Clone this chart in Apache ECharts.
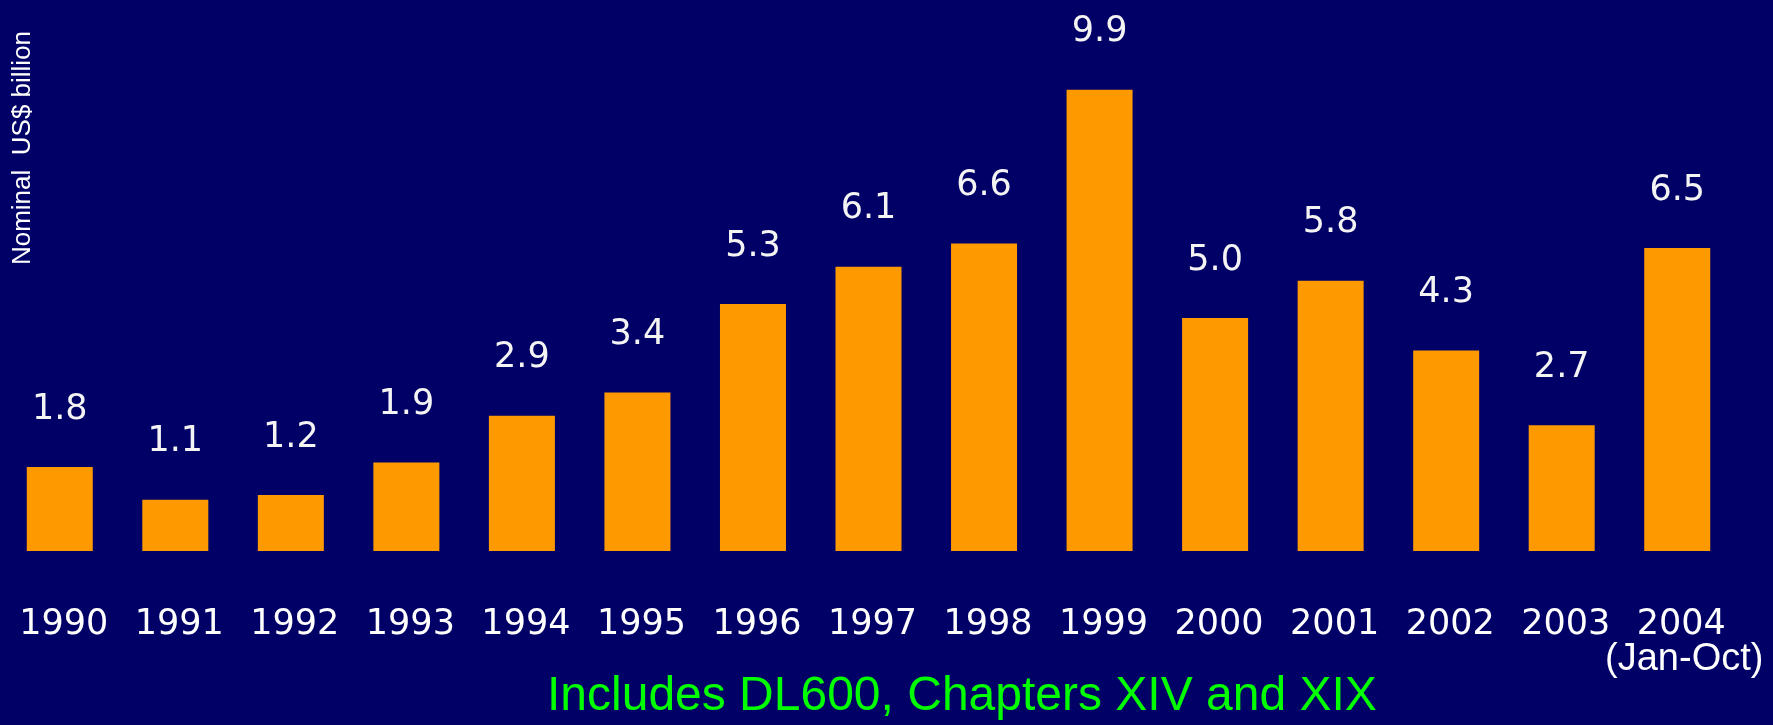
<!DOCTYPE html>
<html>
<head>
<meta charset="utf-8">
<title>Nominal US$ billion, 1990–2004</title>
<script src="https://cdn.jsdelivr.net/npm/echarts@6/dist/echarts.min.js"></script>
<style>
  html, body { margin: 0; padding: 0; background: #000066; }
  #chart { width: 1773px; height: 725px; }
</style>
</head>
<body>
<div id="chart"></div>
<script>
// Yearly totals, nominal US$ billion
const years = ['1990', '1991', '1992', '1993', '1994', '1995', '1996', '1997',
               '1998', '1999', '2000', '2001', '2002', '2003', '2004'];
const totals = [1.8, 1.1, 1.2, 1.9, 2.9, 3.4, 5.3, 6.1, 6.6, 9.9, 5.0, 5.8, 4.3, 2.7, 6.5];
// Second line under a year label (partial-year note)
const yearNotes = ['', '', '', '', '', '', '', '', '', '', '', '', '', '', '(Jan-Oct)'];

const axisTitle = 'Nominal  US$ billion';
const footNote = 'Includes DL600, Chapters XIV and XIX';

const chart = echarts.init(document.getElementById('chart'), null, { renderer: 'canvas' });

chart.setOption({
  backgroundColor: '#000066',
  animation: false,
  title: {
    text: footNote,
    left: 547,
    top: 673,
    padding: 0,
    textStyle: {
      fontFamily: '"Liberation Sans", Arial, sans-serif',
      fontSize: 48,
      fontWeight: 'normal',
      color: '#00ff00'
    }
  },
  graphic: [{
    type: 'text',
    x: 23,
    y: 148,
    rotation: Math.PI / 2,
    style: {
      text: axisTitle,
      fontFamily: '"Liberation Sans", Arial, sans-serif',
      fontSize: 26,
      fill: '#ffffff',
      align: 'center',
      verticalAlign: 'middle'
    }
  }],
  grid: { left: 2, right: 38, top: 85, bottom: 174, containLabel: false },
  xAxis: {
    type: 'category',
    data: years,
    axisLine: { show: false },
    axisTick: { show: false },
    axisLabel: {
      interval: 0,
      margin: 56,
      formatter: (v, i) => yearNotes[i] ? `{y|${v}}\n{n|${yearNotes[i]}}` : `{y|${v}}`,
      rich: {
        y: {
          fontFamily: '"DejaVu Sans", sans-serif',
          fontSize: 35,
          lineHeight: 36,
          color: '#ffffff',
          padding: [0, 0, 0, 8]
        },
        n: {
          fontFamily: '"Liberation Sans", Arial, sans-serif',
          fontSize: 38,
          lineHeight: 34,
          color: '#ffffff',
          padding: [0, 0, 0, 14]
        }
      }
    }
  },
  yAxis: {
    type: 'value',
    min: 0,
    max: 10,
    show: false,
    splitLine: { show: false }
  },
  series: [{
    type: 'bar',
    data: totals,
    barWidth: 66,
    itemStyle: { color: '#ff9900' },
    label: {
      show: true,
      position: 'top',
      distance: 40,
      formatter: p => p.value.toFixed(1),
      fontFamily: '"DejaVu Sans", sans-serif',
      fontSize: 35,
      color: '#f4f4f4'
    }
  }]
});
</script>
</body>
</html>
